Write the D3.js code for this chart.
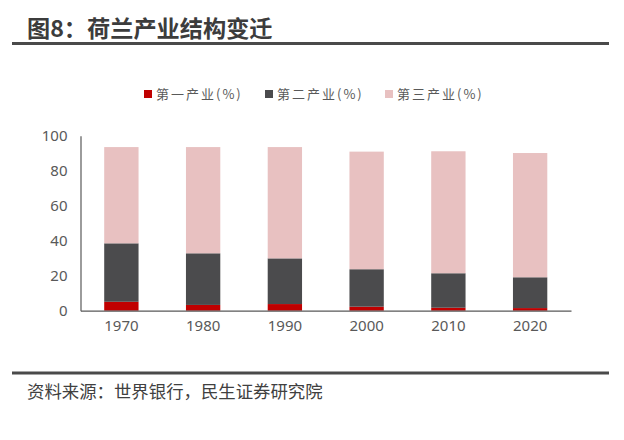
<!DOCTYPE html>
<html><head><meta charset="utf-8">
<script src="https://cdn.jsdelivr.net/npm/d3@7"></script>
<style>
html,body{margin:0;padding:0;background:#fff;}
svg{display:block;}
</style></head>
<body>
<svg id="chart" width="624" height="440"></svg>
<script>
const categories = ["1970","1980","1990","2000","2010","2020"];
const seriesNames = ["第一产业(%)","第二产业(%)","第三产业(%)"];
const primary = [5.1, 3.3, 3.8, 2.3, 1.7, 1.5];
const secondary = [33.4, 29.5, 26.1, 21.4, 19.7, 17.6];
const tertiary = [55.0, 60.7, 63.6, 67.2, 69.7, 71.0];
const yTicks = [0, 20, 40, 60, 80, 100];
const titleText = "图8：荷兰产业结构变迁";
const sourceText = "资料来源：世界银行，民生证券研究院";

const colors = ["#c00000", "#4b4b4d", "#e8c1c1"];
const svg = d3.select("#chart");
const font = "'Noto Sans CJK SC','Noto Sans',sans-serif";

// title
svg.append("text").attr("x", 27).attr("y", 37)
  .attr("font-family", font).attr("font-size", 23.2).attr("font-weight", "bold")
  .attr("fill", "#3c3c3c").text(titleText);
svg.append("line").attr("x1", 12).attr("x2", 609).attr("y1", 43.5).attr("y2", 43.5)
  .attr("stroke", "#4a4a4a").attr("stroke-width", 3);

// source
svg.append("line").attr("x1", 12).attr("x2", 609).attr("y1", 373).attr("y2", 373)
  .attr("stroke", "#4a4a4a").attr("stroke-width", 3);
svg.append("text").attr("x", 27).attr("y", 398)
  .attr("font-family", font).attr("font-size", 17.4)
  .attr("fill", "#404040").text(sourceText);

const m = {left: 80.5, right: 571, top: 135.7, bottom: 310.7};
const x = d3.scaleBand().domain(categories).range([m.left, m.right]).paddingInner(0.58).paddingOuter(0.29);
const y = d3.scaleLinear().domain([0, 100]).range([m.bottom, m.top]);

const rows = categories.map((c, i) => ({cat: c, s0: primary[i], s1: secondary[i], s2: tertiary[i]}));
const stack = d3.stack().keys(["s0","s1","s2"])(rows);

const g = svg.append("g");
g.selectAll("g.series").data(stack).join("g").attr("fill", (d, i) => colors[i])
  .selectAll("rect").data(d => d).join("rect")
  .attr("x", d => x(d.data.cat)).attr("width", x.bandwidth())
  .attr("y", d => y(d[1])).attr("height", d => y(d[0]) - y(d[1]));

// axes
const yAxis = svg.append("g").attr("transform", `translate(${m.left},0)`)
  .call(d3.axisLeft(y).tickValues(yTicks).tickSize(0).tickPadding(13));
yAxis.select(".domain").attr("stroke", "#595959").attr("stroke-width", 1.2);
yAxis.selectAll("text").attr("font-family", "'Noto Sans',sans-serif").attr("font-size", 15).attr("fill", "#595959");

const xAxis = svg.append("g").attr("transform", `translate(0,${m.bottom})`)
  .call(d3.axisBottom(x).tickSize(0).tickPadding(10));
xAxis.select(".domain").attr("stroke", "#595959").attr("stroke-width", 1.2);
xAxis.selectAll("text").attr("font-family", "'Noto Sans',sans-serif").attr("font-size", 15).attr("fill", "#595959");

// legend
const legendX = [144, 265, 385];
const lg = svg.append("g");
seriesNames.forEach((n, i) => {
  lg.append("rect").attr("x", legendX[i]).attr("y", 90).attr("width", 8).attr("height", 8).attr("fill", colors[i]);
  lg.append("text").attr("x", legendX[i] + 12).attr("y", 99)
    .attr("font-family", font).attr("font-size", 13).attr("letter-spacing", 2)
    .attr("fill", "#595959").text(n);
});
</script>
</body></html>
